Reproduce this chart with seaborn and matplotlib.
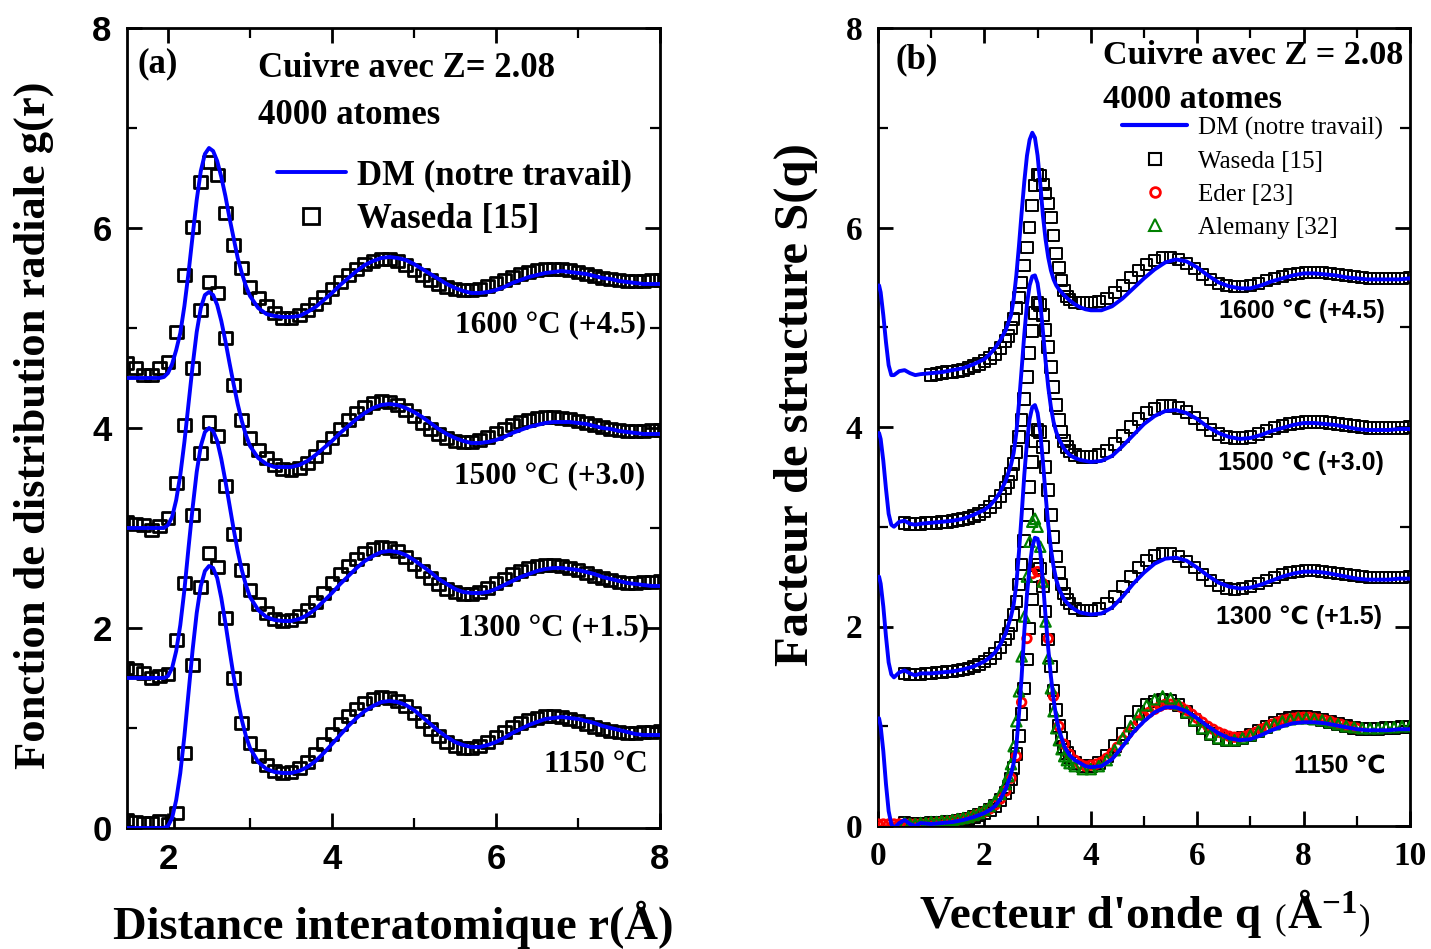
import numpy as np
import pandas as pd
import matplotlib
matplotlib.use("Agg")
import matplotlib.pyplot as plt
import seaborn as sns
from matplotlib.ticker import MultipleLocator
from matplotlib.lines import Line2D
from matplotlib.offsetbox import TextArea, HPacker, AnchoredOffsetbox

# ---------------- data ----------------
OFFSETS = [0.0, 1.5, 3.0, 4.5]
LABELS_A = ["1150 °C", "1300 °C (+1.5)", "1500 °C (+3.0)", "1600 °C (+4.5)"]
LABELS_B = ["1150 ℃", "1300 ℃ (+1.5)", "1500 ℃ (+3.0)", "1600 ℃ (+4.5)"]

# panel (a): g(r)
R_W = [1.5, 1.6, 1.7, 1.8, 1.9, 2.0, 2.1, 2.2, 2.3, 2.4,
       2.5, 2.6, 2.7, 2.8, 2.9, 3.0, 3.1, 3.2, 3.3, 3.4,
       3.5, 3.6, 3.7, 3.8, 3.9, 4.0, 4.1, 4.2, 4.3, 4.4,
       4.5, 4.6, 4.7, 4.8, 4.9, 5.0, 5.1, 5.2, 5.3, 5.4,
       5.5, 5.6, 5.7, 5.8, 5.9, 6.0, 6.1, 6.2, 6.3, 6.4,
       6.5, 6.6, 6.7, 6.8, 6.9, 7.0, 7.1, 7.2, 7.3, 7.4,
       7.5, 7.6, 7.7, 7.8, 7.9, 8.0]
GW_1150 = [0.08, 0.06, 0.05, 0.05, 0.07, 0.04, 0.15, 0.75, 1.63, 2.41,
           2.75, 2.61, 2.10, 1.50, 1.05, 0.85, 0.72, 0.63, 0.57, 0.55,
           0.56, 0.60, 0.66, 0.74, 0.84, 0.94, 1.04, 1.12, 1.19, 1.25,
           1.29, 1.31, 1.30, 1.27, 1.22, 1.15, 1.07, 0.99, 0.92, 0.86,
           0.82, 0.80, 0.80, 0.82, 0.86, 0.91, 0.96, 1.01, 1.05, 1.08,
           1.10, 1.12, 1.12, 1.11, 1.09, 1.07, 1.04, 1.01, 0.99, 0.97,
           0.96, 0.95, 0.95, 0.96, 0.96, 0.97]
GW_1300 = [0.10, 0.08, 0.05, 0.00, 0.02, 0.04, 0.38, 0.95, 1.63, 2.25,
           2.56, 2.42, 1.92, 1.44, 1.08, 0.88, 0.74, 0.65, 0.59, 0.57,
           0.58, 0.62, 0.68, 0.76, 0.85, 0.95, 1.04, 1.12, 1.19, 1.25,
           1.29, 1.31, 1.30, 1.27, 1.21, 1.14, 1.07, 1.00, 0.94, 0.89,
           0.86, 0.84, 0.84, 0.86, 0.90, 0.95, 0.99, 1.04, 1.07, 1.10,
           1.12, 1.13, 1.13, 1.12, 1.10, 1.08, 1.05, 1.02, 1.00, 0.98,
           0.96, 0.95, 0.95, 0.96, 0.96, 0.97]
GW_1500 = [0.06, 0.04, 0.03, -0.02, 0.02, 0.10, 0.45, 1.03, 1.60, 2.18,
           2.46, 2.35, 1.90, 1.43, 1.08, 0.90, 0.78, 0.70, 0.63, 0.59,
           0.58, 0.60, 0.65, 0.72, 0.81, 0.90, 0.99, 1.08, 1.15, 1.21,
           1.25, 1.27, 1.26, 1.23, 1.18, 1.12, 1.05, 0.99, 0.94, 0.90,
           0.87, 0.86, 0.86, 0.88, 0.91, 0.95, 0.99, 1.03, 1.06, 1.08,
           1.10, 1.11, 1.11, 1.10, 1.09, 1.07, 1.05, 1.03, 1.01, 0.99,
           0.98, 0.97, 0.97, 0.97, 0.98, 0.98]
GW_1600 = [0.15, 0.10, 0.03, 0.03, 0.10, 0.16, 0.46, 1.03, 1.51, 1.96,
           2.16, 2.03, 1.65, 1.33, 1.10, 0.91, 0.80, 0.72, 0.65, 0.60,
           0.60, 0.63, 0.68, 0.74, 0.81, 0.89, 0.96, 1.03, 1.09, 1.14,
           1.17, 1.19, 1.19, 1.17, 1.13, 1.08, 1.03, 0.98, 0.94, 0.91,
           0.89, 0.88, 0.88, 0.89, 0.92, 0.95, 0.98, 1.01, 1.04, 1.06,
           1.08, 1.09, 1.09, 1.09, 1.08, 1.06, 1.04, 1.02, 1.00, 0.99,
           0.98, 0.97, 0.97, 0.97, 0.98, 0.98]

R_DM = [1.5, 1.7, 1.9,
        1.95, 2.0, 2.05, 2.1, 2.15, 2.2, 2.25, 2.3, 2.35, 2.4, 2.45,
        2.5, 2.55, 2.6, 2.65, 2.7, 2.75, 2.8, 2.85, 2.9, 2.95, 3.0,
        3.1, 3.2, 3.3, 3.4, 3.5, 3.6, 3.7, 3.8, 3.9, 4.0,
        4.1, 4.2, 4.3, 4.4, 4.5, 4.6, 4.7, 4.8, 4.9, 5.0,
        5.1, 5.2, 5.3, 5.4, 5.5, 5.6, 5.7, 5.8, 5.9, 6.0,
        6.1, 6.2, 6.3, 6.4, 6.5, 6.6, 6.7, 6.8, 6.9, 7.0,
        7.1, 7.2, 7.3, 7.4, 7.5, 7.6, 7.7, 7.8, 7.9, 8.0]
GDM_1150 = [0.0, 0.0, 0.0,
            0.00, 0.02, 0.10, 0.28, 0.55, 0.92, 1.35, 1.78, 2.15, 2.42, 2.57,
            2.62, 2.60, 2.50, 2.30, 2.05, 1.78, 1.52, 1.28, 1.08, 0.92, 0.80,
            0.66, 0.59, 0.56, 0.55, 0.55, 0.57, 0.61, 0.67, 0.75, 0.84,
            0.93, 1.02, 1.10, 1.17, 1.22, 1.26, 1.27, 1.26, 1.23, 1.18,
            1.11, 1.04, 0.97, 0.91, 0.86, 0.83, 0.81, 0.81, 0.83, 0.86,
            0.90, 0.95, 0.99, 1.03, 1.06, 1.09, 1.10, 1.11, 1.10, 1.09,
            1.07, 1.05, 1.02, 1.00, 0.98, 0.96, 0.94, 0.93, 0.93, 0.93]
GDM_1300 = [0.0, 0.0, 0.0,
            0.00, 0.02, 0.10, 0.27, 0.53, 0.88, 1.30, 1.70, 2.06, 2.32, 2.46,
            2.50, 2.47, 2.37, 2.19, 1.97, 1.73, 1.49, 1.27, 1.08, 0.93, 0.81,
            0.68, 0.61, 0.58, 0.57, 0.57, 0.59, 0.63, 0.69, 0.77, 0.85,
            0.94, 1.02, 1.10, 1.17, 1.22, 1.26, 1.27, 1.26, 1.23, 1.18,
            1.12, 1.06, 0.99, 0.94, 0.89, 0.86, 0.85, 0.85, 0.86, 0.89,
            0.93, 0.97, 1.01, 1.04, 1.07, 1.09, 1.10, 1.10, 1.09, 1.08,
            1.06, 1.04, 1.01, 0.99, 0.97, 0.95, 0.94, 0.93, 0.92, 0.92]
GDM_1500 = [0.0, 0.0, 0.0,
            0.00, 0.03, 0.11, 0.28, 0.53, 0.86, 1.24, 1.62, 1.96, 2.20, 2.33,
            2.36, 2.33, 2.23, 2.07, 1.87, 1.65, 1.44, 1.24, 1.07, 0.93, 0.82,
            0.70, 0.64, 0.61, 0.61, 0.61, 0.63, 0.67, 0.73, 0.80, 0.87,
            0.95, 1.02, 1.09, 1.15, 1.20, 1.23, 1.24, 1.23, 1.20, 1.16,
            1.11, 1.05, 0.99, 0.94, 0.90, 0.87, 0.85, 0.85, 0.86, 0.88,
            0.91, 0.95, 0.98, 1.01, 1.03, 1.05, 1.06, 1.06, 1.06, 1.05,
            1.04, 1.02, 1.00, 0.99, 0.97, 0.96, 0.95, 0.94, 0.94, 0.94]
GDM_1600 = [0.0, 0.0, 0.0,
            0.01, 0.05, 0.14, 0.28, 0.45, 0.72, 1.05, 1.42, 1.78, 2.07, 2.24,
            2.30, 2.27, 2.17, 2.01, 1.82, 1.60, 1.40, 1.20, 1.05, 0.92, 0.82,
            0.70, 0.64, 0.62, 0.61, 0.61, 0.62, 0.66, 0.71, 0.78, 0.85,
            0.93, 1.00, 1.07, 1.13, 1.17, 1.20, 1.21, 1.20, 1.18, 1.14,
            1.09, 1.04, 0.99, 0.94, 0.90, 0.87, 0.85, 0.85, 0.86, 0.88,
            0.91, 0.95, 0.98, 1.01, 1.03, 1.05, 1.06, 1.07, 1.06, 1.05,
            1.04, 1.02, 1.00, 0.99, 0.97, 0.96, 0.95, 0.94, 0.94, 0.94]

# panel (b): S(q)
Q_DM = [0.02, 0.05, 0.1, 0.15, 0.2, 0.25, 0.3,
        0.4, 0.5, 0.6, 0.7, 0.8,
        1.0, 1.2, 1.4, 1.6, 1.8, 2.0,
        2.1, 2.2, 2.3, 2.4, 2.5,
        2.55, 2.6, 2.65, 2.7, 2.75, 2.8, 2.85, 2.9, 2.95, 3.0,
        3.05, 3.1, 3.15, 3.2, 3.25, 3.3, 3.35, 3.4,
        3.5, 3.6, 3.7, 3.8, 3.9, 4.0,
        4.2, 4.4, 4.6, 4.8, 5.0, 5.2, 5.4, 5.6, 5.8, 6.0,
        6.2, 6.4, 6.6, 6.8, 7.0, 7.2, 7.4, 7.6, 7.8, 8.0,
        8.2, 8.4, 8.6, 8.8, 9.0, 9.2, 9.4, 9.6, 9.8, 10.0]
SDM_1150 = [1.08, 1.00, 0.75, 0.42, 0.15, 0.02, -0.02,
            0.03, 0.06, 0.02, 0.00, 0.03,
            0.02, 0.03, 0.04, 0.06, 0.09, 0.13,
            0.16, 0.20, 0.27, 0.37, 0.52,
            0.63, 0.80, 1.12, 1.50, 1.95, 2.32, 2.60, 2.80, 2.89, 2.88,
            2.75, 2.45, 2.10, 1.78, 1.50, 1.27, 1.09, 0.97,
            0.80, 0.71, 0.66, 0.63, 0.60, 0.59,
            0.60, 0.67, 0.80, 0.94, 1.05, 1.14, 1.19, 1.19, 1.15, 1.08,
            1.00, 0.93, 0.88, 0.86, 0.87, 0.91, 0.96, 1.00, 1.03, 1.04,
            1.04, 1.03, 1.01, 0.99, 0.97, 0.96, 0.96, 0.96, 0.97, 0.97]
SDM_1300 = [1.00, 0.93, 0.70, 0.40, 0.14, 0.02, -0.01,
            0.04, 0.06, 0.03, 0.01, 0.03,
            0.03, 0.04, 0.05, 0.07, 0.10, 0.15,
            0.19, 0.24, 0.32, 0.43, 0.60,
            0.72, 0.92, 1.25, 1.62, 2.02, 2.35, 2.58, 2.70, 2.72, 2.64,
            2.45, 2.15, 1.82, 1.52, 1.28, 1.10, 0.97, 0.88,
            0.77, 0.71, 0.67, 0.64, 0.63, 0.62,
            0.63, 0.69, 0.80, 0.93, 1.04, 1.13, 1.18, 1.19, 1.16, 1.09,
            1.01, 0.94, 0.90, 0.88, 0.89, 0.92, 0.96, 1.00, 1.03, 1.05,
            1.05, 1.04, 1.02, 1.00, 0.98, 0.97, 0.97, 0.97, 0.98, 0.98]
SDM_1500 = [0.94, 0.88, 0.66, 0.38, 0.13, 0.02, 0.00,
            0.05, 0.06, 0.03, 0.02, 0.03,
            0.04, 0.05, 0.06, 0.08, 0.12, 0.17,
            0.21, 0.27, 0.35, 0.46, 0.62,
            0.74, 0.94, 1.24, 1.58, 1.93, 2.23, 2.42, 2.51, 2.52, 2.44,
            2.25, 1.96, 1.66, 1.40, 1.20, 1.05, 0.95, 0.88,
            0.78, 0.72, 0.69, 0.67, 0.66, 0.65,
            0.66, 0.71, 0.81, 0.92, 1.03, 1.11, 1.16, 1.17, 1.14, 1.08,
            1.00, 0.94, 0.90, 0.88, 0.89, 0.92, 0.96, 0.99, 1.02, 1.04,
            1.04, 1.03, 1.02, 1.00, 0.98, 0.97, 0.97, 0.97, 0.98, 0.98]
SDM_1600 = [0.92, 0.85, 0.62, 0.35, 0.12, 0.02, 0.02,
            0.06, 0.07, 0.04, 0.02, 0.03,
            0.04, 0.05, 0.07, 0.09, 0.13, 0.18,
            0.23, 0.29, 0.37, 0.47, 0.62,
            0.78, 1.02, 1.32, 1.65, 1.96, 2.22, 2.38, 2.45, 2.40, 2.22,
            1.94, 1.62, 1.38, 1.20, 1.07, 0.98, 0.92, 0.88,
            0.82, 0.77, 0.73, 0.70, 0.68, 0.67,
            0.67, 0.71, 0.79, 0.89, 0.99, 1.08, 1.15, 1.18, 1.16, 1.10,
            1.02, 0.95, 0.91, 0.89, 0.89, 0.92, 0.96, 0.99, 1.02, 1.04,
            1.04, 1.03, 1.02, 1.00, 0.99, 0.98, 0.98, 0.98, 0.98, 0.99]

Q_W = [0.5, 0.6, 0.7, 0.8, 0.9, 1.0, 1.1, 1.2, 1.3, 1.4,
       1.5, 1.6, 1.7, 1.8, 1.9, 2.0, 2.1, 2.2, 2.3, 2.4,
       2.45, 2.5, 2.55, 2.6, 2.65, 2.7, 2.75, 2.8, 2.85, 2.9,
       2.95, 3.0, 3.05, 3.1, 3.15, 3.2, 3.25, 3.3, 3.35, 3.4,
       3.45, 3.5, 3.55, 3.6,
       3.7, 3.85, 4.0, 4.15, 4.3, 4.45, 4.6, 4.75, 4.9, 5.05,
       5.2, 5.35, 5.5, 5.65, 5.8, 5.95, 6.1, 6.25, 6.4, 6.55,
       6.7, 6.85, 7.0, 7.15, 7.3, 7.45, 7.6, 7.75, 7.9, 8.05,
       8.2, 8.35, 8.5, 8.65, 8.8, 8.95, 9.1, 9.25, 9.4, 9.55,
       9.7, 9.85, 10.0]
NA = np.nan
SW_1150 = [0.03, 0.02, 0.02, 0.02, 0.02, 0.03, 0.03, 0.03, 0.04, 0.04,
           0.05, 0.06, 0.07, 0.09, 0.11, 0.13, 0.16, 0.20, 0.26, 0.33,
           0.39, 0.47, 0.58, 0.72, 0.90, 1.12, 1.38, 1.67, 1.98, 2.27,
           2.50, 2.62, 2.58, 2.40, 2.15, 1.87, 1.60, 1.36, 1.16, 1.00,
           0.88, 0.79, 0.73, 0.69,
           0.63, 0.60, 0.60, 0.63, 0.70, 0.80, 0.92, 1.04, 1.14, 1.21,
           1.25, 1.27, 1.26, 1.21, 1.14, 1.06, 0.98, 0.92, 0.88, 0.86,
           0.86, 0.88, 0.91, 0.95, 0.99, 1.03, 1.06, 1.08, 1.09, 1.09,
           1.08, 1.06, 1.04, 1.02, 1.00, 0.98, 0.97, 0.97, 0.97, 0.98,
           0.98, 0.99, 0.99]
SW_1300 = [0.03, 0.02, 0.02, 0.02, 0.03, 0.03, 0.04, 0.04, 0.05, 0.05,
           0.06, 0.07, 0.08, 0.10, 0.12, 0.15, 0.18, 0.23, 0.29, 0.37,
           0.43, 0.51, 0.62, 0.75, 0.92, 1.12, 1.36, 1.62, 1.90, 2.15,
           2.36, 2.47, 2.45, 2.30, 2.10, 1.87, 1.62, 1.40, 1.20, 1.04,
           0.92, 0.83, 0.77, 0.73,
           0.68, 0.66, 0.66, 0.68, 0.73, 0.80, 0.90, 1.00, 1.09, 1.16,
           1.21, 1.23, 1.23, 1.20, 1.15, 1.09, 1.02, 0.96, 0.91, 0.88,
           0.87, 0.88, 0.90, 0.93, 0.96, 0.99, 1.02, 1.04, 1.05, 1.06,
           1.06, 1.05, 1.04, 1.03, 1.02, 1.01, 1.00, 0.99, 0.99, 0.99,
           0.99, 0.99, 1.00]
SW_1500 = [0.04, 0.03, 0.03, 0.03, 0.04, 0.04, 0.04, 0.05, 0.05, 0.06,
           0.07, 0.08, 0.09, 0.11, 0.13, 0.16, 0.20, 0.25, 0.31, 0.39,
           0.45, 0.53, 0.63, 0.75, 0.90, 1.07, 1.28, 1.50, 1.74, 1.96,
           2.14, 2.24, 2.22, 2.12, 1.97, 1.80, 1.60, 1.40, 1.22, 1.07,
           0.95, 0.86, 0.80, 0.76,
           0.72, 0.70, 0.70, 0.72, 0.76, 0.83, 0.91, 1.00, 1.08, 1.14,
           1.18, 1.21, 1.21, 1.19, 1.15, 1.09, 1.03, 0.97, 0.93, 0.90,
           0.89, 0.89, 0.90, 0.93, 0.96, 0.99, 1.01, 1.03, 1.04, 1.05,
           1.05, 1.05, 1.04, 1.03, 1.02, 1.01, 1.00, 0.99, 0.99, 0.99,
           0.99, 0.99, 1.00]
SW_1600 = [NA, NA, NA, NA, NA, 0.02, 0.03, 0.04, 0.05, 0.05,
           0.06, 0.07, 0.09, 0.11, 0.13, 0.16, 0.19, 0.23, 0.29, 0.36,
           0.41, 0.49, 0.58, 0.69, 0.80, 0.95, 1.12, 1.30, 1.50, 1.72,
           1.92, 2.03, 2.02, 1.93, 1.84, 1.74, 1.60, 1.42, 1.24, 1.10,
           0.97, 0.87, 0.81, 0.78,
           0.75, 0.74, 0.75, 0.76, 0.79, 0.85, 0.92, 1.00, 1.07, 1.13,
           1.17, 1.20, 1.20, 1.18, 1.14, 1.09, 1.03, 0.98, 0.94, 0.92,
           0.91, 0.91, 0.92, 0.94, 0.97, 0.99, 1.01, 1.03, 1.04, 1.05,
           1.05, 1.05, 1.04, 1.03, 1.02, 1.01, 1.00, 0.99, 0.99, 0.99,
           0.99, 0.99, 1.00]

Q_E = [0.0, 0.1, 0.2, 0.3, 0.4, 0.5, 0.6, 0.7, 0.8, 0.9,
       1.0, 1.1, 1.2, 1.3, 1.4, 1.5, 1.6, 1.7, 1.8, 1.9,
       2.0, 2.1, 2.2, 2.3, 2.4, 2.5, 2.6, 2.7, 2.8, 2.9,
       3.0, 3.1, 3.2, 3.3, 3.4, 3.5, 3.6, 3.7, 3.8, 3.9,
       4.0, 4.1, 4.2, 4.3, 4.4, 4.5, 4.6, 4.7, 4.8, 4.9,
       5.0, 5.1, 5.2, 5.3, 5.4, 5.5, 5.6, 5.7, 5.8, 5.9,
       6.0, 6.1, 6.2, 6.3, 6.4, 6.5, 6.6, 6.7, 6.8, 6.9,
       7.0, 7.1, 7.2, 7.3, 7.4, 7.5, 7.6, 7.7, 7.8, 7.9,
       8.0, 8.1, 8.2, 8.3, 8.4, 8.5, 8.6, 8.7, 8.8, 8.9,
       9.0]
S_EDER = [0.02, 0.02, 0.02, 0.02, 0.02, 0.02, 0.02, 0.02, 0.02, 0.02,
          0.03, 0.03, 0.04, 0.04, 0.05, 0.06, 0.07, 0.08, 0.10, 0.12,
          0.14, 0.17, 0.21, 0.27, 0.35, 0.48, 0.70, 1.24, 1.88, 2.53,
          2.55, 2.43, 1.88, 1.30, 1.00, 0.82, 0.72, 0.66, 0.62, 0.60,
          0.61, 0.62, 0.64, 0.68, 0.73, 0.79, 0.86, 0.93, 0.99, 1.05,
          1.10, 1.14, 1.17, 1.20, 1.22, 1.22, 1.21, 1.19, 1.16, 1.12,
          1.08, 1.04, 1.00, 0.97, 0.94, 0.92, 0.90, 0.89, 0.89, 0.90,
          0.92, 0.94, 0.97, 0.99, 1.02, 1.04, 1.06, 1.07, 1.08, 1.09,
          1.09, 1.09, 1.08, 1.07, 1.06, 1.05, 1.03, 1.02, 1.00, 0.99,
          0.98]
S_ALEMANY = [0.03, 0.02, 0.02, 0.03, 0.03, 0.04, 0.04, 0.05, 0.05, 0.06,
             0.07, 0.08, 0.09, 0.11, 0.13, 0.16, 0.20, 0.25, 0.32, 0.42,
             0.50, 0.62, 0.80, 1.05, 1.35, 1.70, 2.10, 2.50, 2.85, 3.05,
             3.08, 3.00, 2.80, 2.45, 2.05, 1.68, 1.38, 1.15, 0.98, 0.86,
             0.77, 0.70, 0.66, 0.63,
             0.60, 0.57, 0.57, 0.60, 0.66, 0.76, 0.88, 1.00, 1.12, 1.21,
             1.27, 1.30, 1.28, 1.22, 1.14, 1.06, 0.98, 0.92, 0.88, 0.86,
             0.86, 0.88, 0.91, 0.95, 0.99, 1.02, 1.05, 1.07, 1.08, 1.08,
             1.07, 1.06, 1.04, 1.02, 1.00, 0.99, 0.98, 0.98, 0.98, 0.99,
             0.99, 1.00, 1.00]

G_W = [GW_1150, GW_1300, GW_1500, GW_1600]
G_DM = [GDM_1150, GDM_1300, GDM_1500, GDM_1600]
S_W = [SW_1150, SW_1300, SW_1500, SW_1600]
S_DM = [SDM_1150, SDM_1300, SDM_1500, SDM_1600]

# ---------------- style ----------------
sns.set_theme(style="ticks")
plt.rcParams.update({
    "font.family": ["Liberation Serif", "DejaVu Serif"],
    "font.weight": "bold",
    "text.color": "black",
    "axes.labelcolor": "black",
    "axes.edgecolor": "black",
    "xtick.color": "black",
    "ytick.color": "black",
    "xtick.labelcolor": "black",
    "ytick.labelcolor": "black",
    "axes.linewidth": 2.0,
    "mathtext.fontset": "custom",
    "mathtext.rm": "Liberation Serif:bold",
    "mathtext.bf": "Liberation Serif:bold",
    "mathtext.it": "Liberation Serif:bold",
})
BLUE = "#0000ff"

fig = plt.figure(figsize=(14.31, 9.49), dpi=100)
axA = fig.add_axes([127 / 1431, 1 - 828 / 949, 533 / 1431, 800 / 949])
axB = fig.add_axes([878 / 1431, 1 - 826 / 949, 532 / 1431, 798 / 949])


def draw_line(ax, x, y, off, lw):
    df = pd.DataFrame({"x": x, "y": np.asarray(y, float) + off})
    sns.lineplot(data=df, x="x", y="y", ax=ax, color=BLUE, lw=lw,
                 estimator=None, sort=False, zorder=6)


def draw_pts(ax, x, y, off, marker, ec, s, lw, z):
    df = pd.DataFrame({"x": x, "y": np.asarray(y, float) + off}).dropna()
    sns.scatterplot(data=df, x="x", y="y", ax=ax, marker=marker, s=s,
                    facecolor="none", edgecolor=ec, linewidth=lw,
                    zorder=z, legend=False)


# ---- panel (a)
for i, off in enumerate(OFFSETS):
    draw_pts(axA, R_W, G_W[i], off, "s", "black", 85, 2.0, 3)
    draw_line(axA, R_DM, G_DM[i], off, 2.8)

# ---- panel (b)
for i, off in enumerate(OFFSETS):
    draw_pts(axB, Q_W, S_W[i], off, "s", "black", 70, 1.4, 3)
draw_pts(axB, Q_E, S_EDER, 0.0, "o", "red", 38, 2.0, 4)
draw_pts(axB, Q_W, S_ALEMANY, 0.0, "^", "#008000", 55, 1.6, 5)
for i, off in enumerate(OFFSETS):
    draw_line(axB, Q_DM, S_DM[i], off, 2.8)

# ---- axes formatting
for ax, (x0, x1) in [(axA, (1.5, 8.0)), (axB, (0, 10))]:
    ax.set_xlim(x0, x1)
    ax.set_ylim(0, 8)
    ax.xaxis.set_major_locator(MultipleLocator(2))
    ax.xaxis.set_minor_locator(MultipleLocator(1))
    ax.yaxis.set_major_locator(MultipleLocator(2))
    ax.yaxis.set_minor_locator(MultipleLocator(1))
    ax.tick_params(which="both", direction="in", top=True, right=True,
                   color="black", labelcolor="black")
    ax.tick_params(which="major", length=11, width=2, pad=11)
    ax.tick_params(which="minor", length=7, width=1.6)
    ax.set_xlabel("")
    ax.set_ylabel("")
    for sp in ax.spines.values():
        sp.set_color("black")
        sp.set_linewidth(2)

axA.tick_params(which="major", labelsize=25, labelfontfamily="Liberation Sans")
axB.tick_params(which="major", labelsize=24, labelfontfamily="Liberation Serif")
for lab in (axA.get_xticklabels() + axA.get_yticklabels()
            + axB.get_xticklabels() + axB.get_yticklabels()):
    lab.set_fontweight("bold")

# ---- axis labels
fig.text(34 / 1431, 1 - 425 / 949, "Fonction de distribution radiale g(r)",
         rotation=90, ha="center", va="center", fontsize=32, fontweight="bold")
fig.text(393 / 1431, 1 - 925 / 949, "Distance interatomique r(Å)",
         ha="center", va="center", fontsize=33.5, fontweight="bold")
fig.text(796 / 1431, 1 - 405 / 949, "Facteur de structure S(q)",
         rotation=90, ha="center", va="center", fontsize=35, fontweight="bold")

parts = HPacker(children=[
    TextArea("Vecteur d'onde q ", textprops=dict(fontsize=34, fontweight="bold")),
    TextArea("(", textprops=dict(fontsize=25, fontweight="normal")),
    TextArea("Å$^{-1}$", textprops=dict(fontsize=34, fontweight="bold")),
    TextArea(")", textprops=dict(fontsize=25, fontweight="normal")),
], align="baseline", pad=0, sep=1)
box = AnchoredOffsetbox(loc="center", child=parts, pad=0, borderpad=0,
                        frameon=False, bbox_to_anchor=(1145 / 1431, 1 - 917 / 949),
                        bbox_transform=fig.transFigure)
fig.add_artist(box)

# ---- panel texts
axA.text(0.019, 0.955, "(a)", transform=axA.transAxes, fontsize=25,
         fontweight="bold", va="center", ha="left")
axA.text(0.246, 0.949, "Cuivre avec Z= 2.08", transform=axA.transAxes,
         fontsize=25, fontweight="bold", va="center", ha="left")
axA.text(0.246, 0.890, "4000 atomes", transform=axA.transAxes,
         fontsize=25, fontweight="bold", va="center", ha="left")
A_POS = [(7.85, 0.63), (7.87, 2.0), (7.82, 3.52), (7.83, 5.03)]
for (xx, yy), lab in zip(A_POS, LABELS_A):
    axA.text(xx, yy, lab, fontsize=22.5, fontweight="bold", ha="right", va="center")

axB.text(0.032, 0.960, "(b)", transform=axB.transAxes, fontsize=25,
         fontweight="bold", va="center", ha="left")
axB.text(0.423, 0.965, "Cuivre avec Z = 2.08", transform=axB.transAxes,
         fontsize=24.6, fontweight="bold", va="center", ha="left")
axB.text(0.423, 0.911, "4000 atomes", transform=axB.transAxes,
         fontsize=24.6, fontweight="bold", va="center", ha="left")
B_POS = [(9.55, 0.61), (9.47, 2.1), (9.5, 3.64), (9.52, 5.16)]
for (xx, yy), lab in zip(B_POS, LABELS_B):
    axB.text(xx, yy, lab, fontsize=18, fontweight="bold", ha="right", va="center",
             family=["Liberation Sans", "DejaVu Sans"])

# ---- legends
hA = [Line2D([], [], color=BLUE, lw=2.8),
      Line2D([], [], marker="s", ls="", mfc="none", mec="black", ms=11, mew=2)]
legA = axA.legend(hA, ["DM (notre travail)", "Waseda [15]"], loc="upper left",
                  bbox_to_anchor=(0.281, 0.836), frameon=False, borderpad=0,
                  borderaxespad=0, handlelength=2.0, handletextpad=0.3,
                  labelspacing=0.31, prop=dict(size=25, weight="bold"))

hB = [Line2D([], [], color=BLUE, lw=3),
      Line2D([], [], marker="s", ls="", mfc="none", mec="black", ms=9, mew=1.5),
      Line2D([], [], marker="o", ls="", mfc="none", mec="red", ms=7, mew=2),
      Line2D([], [], marker="^", ls="", mfc="none", mec="#008000", ms=8, mew=1.5)]
legB = axB.legend(hB, ["DM (notre travail)", "Waseda [15]", "Eder [23]", "Alemany [32]"],
                  loc="upper left", bbox_to_anchor=(0.459, 0.889), frameon=False,
                  borderpad=0, borderaxespad=0, handlelength=2.6, handletextpad=0.45,
                  labelspacing=0.42, prop=dict(size=18, weight="normal"))
for t in legB.get_texts():
    t.set_fontweight("normal")

fig.savefig("out.png", dpi=100)
